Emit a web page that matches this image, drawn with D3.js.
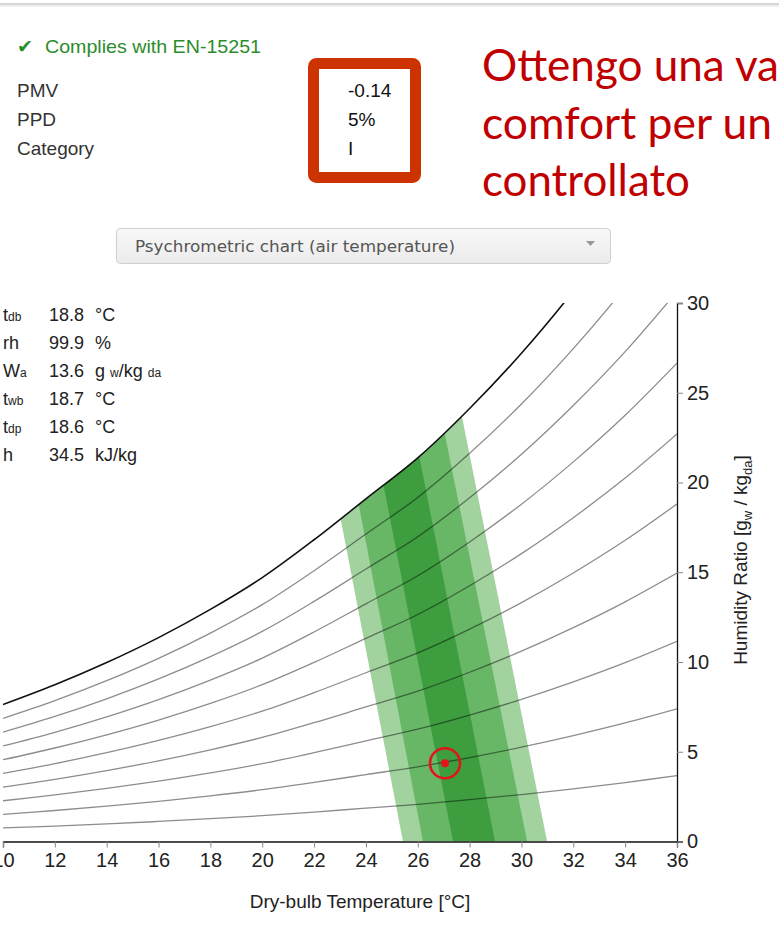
<!DOCTYPE html>
<html>
<head>
<meta charset="utf-8">
<script src="https://cdn.jsdelivr.net/npm/d3@7"></script>
<style>
  body { margin: 0; background: #fff; }
  svg { display: block; font-family: "Liberation Sans", Arial, sans-serif; }
  .axis .domain { stroke: #111; stroke-width: 1.3; }
  .axis .tick line { stroke: #888; }
  .axis .tick text { font-size: 20px; fill: #222; }
</style>
</head>
<body>
<svg id="chart" width="779" height="930"></svg>
<script>
// ---- data ----
const temps = [10, 12, 14, 16, 18, 20, 22, 24, 26, 28, 30, 32, 34, 36];
// humidity ratio at saturation, g/kg (sea level)
const satW = [7.63, 8.73, 9.97, 11.36, 12.93, 14.70, 16.81, 19.09, 21.37, 24.12, 27.20, 30.66, 34.49, 38.78];
const rhLevels = [10, 20, 30, 40, 50, 60, 70, 80, 90];
const xTicks = [10, 12, 14, 16, 18, 20, 22, 24, 26, 28, 30, 32, 34, 36];
const yTicks = [0, 5, 10, 15, 20, 25, 30];

// comfort zones (outer -> inner), boundary temps at W = 0 and W = 26 g/kg
const zoneNames = ['III', 'II', 'I'];
const zoneColors = ['#a2d39f', '#68b767', '#3d9d3f'];
const zoneBottomLeft = [25.43, 26.20, 27.36];
const zoneBottomRight = [30.99, 30.22, 28.98];
const zoneTopLeft = [21.95, 22.77, 23.85];
const zoneTopRight = [27.38, 26.58, 25.44];
const zoneTopW = 26;

const point = { t: 27.05, w: 4.36 };

const results = [['PMV', '-0.14'], ['PPD', '5%'], ['Category', 'I']];
const readSymbols = ['t', 'rh', 'W', 't', 't', 'h'];
const readSubs = ['db', '', 'a', 'wb', 'dp', ''];
const readValues = ['18.8', '99.9', '13.6', '18.7', '18.6', '34.5'];
const readUnits = ['°C', '%', 'W', '°C', '°C', 'kJ/kg'];
const noteLines = ['Ottengo una va', 'comfort per un', 'controllato'];

// ---- layout ----
const svg = d3.select('#chart');
const P = 101.325;

const x = d3.scaleLinear().domain([10, 36]).range([3, 677]);
const y = d3.scaleLinear().domain([0, 30]).range([841.5, 303]);

// top border
svg.append('rect').attr('x', 0).attr('y', 3).attr('width', 779).attr('height', 2).attr('fill', '#d6d6d6');
svg.append('rect').attr('x', 0).attr('y', 5).attr('width', 779).attr('height', 2).attr('fill', '#f0f0f0');

// compliance block
svg.append('text').attr('x', 17).attr('y', 53).attr('fill', '#2c8c2c').style('font-size', '19px')
  .text('\u2714');
svg.append('text').attr('x', 45).attr('y', 53).attr('fill', '#2c8c2c').style('font-size', '19px')
  .attr('textLength', 216).attr('lengthAdjust', 'spacingAndGlyphs')
  .text('Complies with EN-15251');

results.forEach((r, i) => {
  svg.append('text').attr('x', 17).attr('y', 97 + i * 29).attr('fill', '#333').style('font-size', '19px').text(r[0]);
  svg.append('text').attr('x', 348).attr('y', 97 + i * 29).attr('fill', '#111').style('font-size', '19px').text(r[1]);
});

svg.append('rect')
  .attr('x', 313.5).attr('y', 63.5).attr('width', 102).attr('height', 114)
  .attr('rx', 3).attr('fill', 'none').attr('stroke', '#cc3300').attr('stroke-width', 11);

noteLines.forEach((s, i) => {
  svg.append('text')
    .attr('x', 482).attr('y', 81 + i * 57.5)
    .attr('fill', '#c00000')
    .style('font-family', 'Lato, "Open Sans", sans-serif')
    .style('font-size', '45px')
    .attr('textLength', [297, 290, 208][i])
    .attr('lengthAdjust', 'spacingAndGlyphs')
    .text(s);
});

// dropdown
const grad = svg.append('defs').append('linearGradient').attr('id', 'dd').attr('x1', 0).attr('x2', 0).attr('y1', 0).attr('y2', 1);
grad.append('stop').attr('offset', 0).attr('stop-color', '#f8f8f8');
grad.append('stop').attr('offset', 1).attr('stop-color', '#ebebeb');
svg.append('rect').attr('x', 116.5).attr('y', 228.5).attr('width', 494).attr('height', 35).attr('rx', 4)
  .attr('fill', 'url(#dd)').attr('stroke', '#cfcfcf');
svg.append('text').attr('x', 135).attr('y', 252).attr('fill', '#555')
  .style('font-family', '"DejaVu Sans", sans-serif').style('font-size', '16px')
  .attr('textLength', 320).attr('lengthAdjust', 'spacingAndGlyphs')
  .text('Psychrometric chart (air temperature)');
svg.append('path').attr('d', 'M586,241 h9 l-4.5,5 z').attr('fill', '#999');

// readout block
readSymbols.forEach((s, i) => {
  const yy = 321 + i * 28;
  const t = svg.append('text').attr('x', 3).attr('y', yy).attr('fill', '#222').style('font-size', '18px');
  t.append('tspan').text(s);
  if (readSubs[i]) t.append('tspan').style('font-size', '12px').text(readSubs[i]);
  svg.append('text').attr('x', 49).attr('y', yy).attr('fill', '#222').style('font-size', '18px').text(readValues[i]);
  const u = svg.append('text').attr('x', 95).attr('y', yy).attr('fill', '#222').style('font-size', '18px');
  if (readUnits[i] === 'W') {
    u.append('tspan').text('g ');
    u.append('tspan').style('font-size', '12px').text('w');
    u.append('tspan').text('/kg ');
    u.append('tspan').style('font-size', '12px').text('da');
  } else {
    u.text(readUnits[i]);
  }
});

// ---- chart ----
const defs = svg.select('defs');
defs.append('clipPath').attr('id', 'plot')
  .append('rect').attr('x', 3).attr('y', 303).attr('width', 674).attr('height', 538.5);

const satPts = temps.map((t, i) => ({ t, w: satW[i] }));
const curve = d3.curveCatmullRom.alpha(0.5);

defs.append('clipPath').attr('id', 'under')
  .append('path')
  .attr('d', d3.area().x(d => x(d.t)).y0(y(0)).y1(d => y(d.w)).curve(curve)(satPts));

const plot = svg.append('g').attr('clip-path', 'url(#plot)');

// comfort zones
const zones = plot.append('g').attr('clip-path', 'url(#under)');
zoneNames.forEach((n, i) => {
  const poly = [
    [x(zoneBottomLeft[i]), y(0)],
    [x(zoneTopLeft[i]), y(zoneTopW)],
    [x(zoneTopRight[i]), y(zoneTopW)],
    [x(zoneBottomRight[i]), y(0)]
  ];
  zones.append('path')
    .attr('d', 'M' + poly.join('L') + 'Z')
    .attr('fill', zoneColors[i]);
});

// relative humidity lines
const line = d3.line().x(d => x(d.t)).y(d => y(d.w)).curve(curve);
rhLevels.forEach(rh => {
  const phi = rh / 100;
  const pts = satPts.map(d => {
    const ps = d.w * P / (622 + d.w);
    return { t: d.t, w: 622 * phi * ps / (P - phi * ps) };
  });
  plot.append('path').attr('d', line(pts))
    .attr('fill', 'none').attr('stroke', '#000').attr('stroke-opacity', 0.45).attr('stroke-width', 1.3);
});
plot.append('path').attr('d', line(satPts))
  .attr('fill', 'none').attr('stroke', '#111').attr('stroke-width', 1.6);

// current point
plot.append('circle').attr('cx', x(point.t)).attr('cy', y(point.w)).attr('r', 15)
  .attr('fill', 'none').attr('stroke', '#e3141b').attr('stroke-width', 2.6);
plot.append('circle').attr('cx', x(point.t)).attr('cy', y(point.w)).attr('r', 4).attr('fill', '#e3141b');

// axes
svg.append('g').attr('class', 'axis').attr('transform', `translate(0,${y(0)})`)
  .call(d3.axisBottom(x).tickValues(xTicks).tickSize(6).tickPadding(5));
svg.append('g').attr('class', 'axis').attr('transform', `translate(${x(36)},0)`)
  .call(d3.axisRight(y).tickValues(yTicks).tickSize(6).tickPadding(4));

svg.append('text').attr('x', 360).attr('y', 908).attr('text-anchor', 'middle')
  .attr('fill', '#222').style('font-size', '19px').text('Dry-bulb Temperature [°C]');

const yl = svg.append('text').attr('transform', 'translate(747,560) rotate(-90)')
  .attr('text-anchor', 'middle').attr('fill', '#222').style('font-size', '19px');
yl.append('tspan').text('Humidity Ratio [g');
yl.append('tspan').attr('dy', 5).style('font-size', '13px').text('w');
yl.append('tspan').attr('dy', -5).text(' / kg');
yl.append('tspan').attr('dy', 5).style('font-size', '13px').text('da');
yl.append('tspan').attr('dy', -5).text(']');
</script>
</body>
</html>
